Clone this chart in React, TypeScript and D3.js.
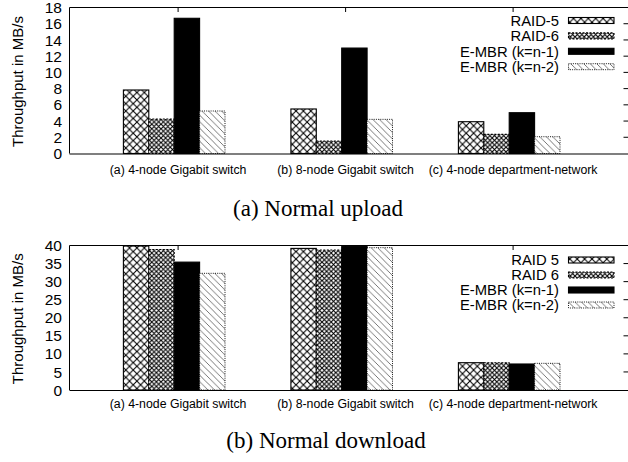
import React from "react";
import * as d3 from "d3";

const categories = [
  "(a) 4-node Gigabit switch",
  "(b) 8-node Gigabit switch",
  "(c) 4-node department-network",
];

const uploadNames = ["RAID-5", "RAID-6", "E-MBR (k=n-1)", "E-MBR (k=n-2)"];
const downloadNames = ["RAID 5", "RAID 6", "E-MBR (k=n-1)", "E-MBR (k=n-2)"];

const uploadRaid5 = [7.83, 5.49, 3.92];
const uploadRaid6 = [4.25, 1.54, 2.36];
const uploadEmbr1 = [16.67, 13.0, 5.03];
const uploadEmbr2 = [5.24, 4.21, 2.07];

const downloadRaid5 = [39.85, 39.2, 7.56];
const downloadRaid6 = [38.9, 38.75, 7.56];
const downloadEmbr1 = [35.4, 39.7, 7.2];
const downloadEmbr2 = [32.3, 39.4, 7.38];

const uploadTicks = [0, 2, 4, 6, 8, 10, 12, 14, 16, 18];
const downloadTicks = [0, 5, 10, 15, 20, 25, 30, 35, 40];

const yLabel = "Throughput in MB/s";
const captionA = "(a) Normal upload";
const captionB = "(b) Normal download";

const SANS = "'Liberation Sans', Arial, Helvetica, sans-serif";
const SERIF = "'Liberation Serif', 'Times New Roman', Times, serif";

const fills = ["url(#pR5)", "url(#pR6)", "#000", "url(#pN2)"];
const strokeDash = [undefined, "2,1.5", undefined, "1,1.2"];

type PanelProps = {
  top: number;
  bottom: number;
  ticks: number[];
  names: string[];
  values: number[][];
  legendTop: number;
  legendStep: number;
  catBaseline: number;
};

function Panel({ top, bottom, ticks, names, values, legendTop, legendStep, catBaseline }: PanelProps) {
  const left = 69.5;
  const right = 628;
  const yMax = ticks[ticks.length - 1];
  const y = d3.scaleLinear().domain([0, yMax]).range([bottom, top]);
  const xc = d3.scalePoint<string>().domain(categories).range([174.2, 509.2]);
  const xs = d3.scaleBand<number>().domain(d3.range(names.length)).range([-50.8, 50.8]);
  const tickOffset = 3.9;
  return (
    <g>
      {values.map((vals, si) =>
        vals.map((v, ci) => {
          const x0 = (xc(categories[ci]) as number) + (xs(si) as number);
          return (
            <rect
              key={`${si}-${ci}`}
              x={x0}
              y={y(v)}
              width={xs.bandwidth()}
              height={y(0) - y(v)}
              fill={fills[si]}
              stroke="#000"
              strokeWidth={si === 3 ? 0.9 : 1.1}
              strokeDasharray={strokeDash[si]}
            />
          );
        })
      )}
      <line x1={left} x2={left} y1={top} y2={bottom} stroke="#000" strokeWidth={1} />
      <line x1={left} x2={right} y1={bottom + 0.5} y2={bottom + 0.5} stroke="#000" strokeWidth={1.2} />
      <line x1={left} x2={right} y1={top} y2={top} stroke="#000" strokeWidth={1} />
      {ticks.map((t) => (
        <text
          key={`yl${t}`}
          x={62}
          y={y(t)}
          dy="0.36em"
          textAnchor="end"
          fontFamily={SANS}
          fontSize={15.5}
          fill="#000"
        >
          {t}
        </text>
      ))}
      {ticks.slice(1, -1).map((t) => (
        <line key={`rt${t}`} x1={623.5} x2={628} y1={y(t)} y2={y(t)} stroke="#000" strokeWidth={1} />
      ))}
      {categories.map((c) => {
        const tx = (xc(c) as number) + tickOffset;
        return (
          <g key={c}>
            <line x1={tx} x2={tx} y1={top} y2={top + 4.5} stroke="#000" strokeWidth={1} />
            <text
              x={tx}
              y={catBaseline}
              textAnchor="middle"
              fontFamily={SANS}
              fontSize={12.3}
              fill="#000"
            >
              {c}
            </text>
          </g>
        );
      })}
      <text
        transform={`translate(17,${(top + bottom) / 2 + 1}) rotate(-90)`}
        textAnchor="middle"
        dominantBaseline="central"
        fontFamily={SANS}
        fontSize={15}
        fill="#000"
      >
        {yLabel}
      </text>
      {names.map((n, i) => {
        const cy = legendTop + i * legendStep;
        return (
          <g key={n}>
            <text
              x={559}
              y={cy + 5.2}
              textAnchor="end"
              fontFamily={SANS}
              fontSize={14.8}
              fill="#000"
            >
              {n}
            </text>
            <rect
              x={568.5}
              y={cy - 3}
              width={45.5}
              height={6}
              fill={fills[i]}
              stroke="#000"
              strokeWidth={i === 3 ? 0.9 : 1.1}
              strokeDasharray={strokeDash[i]}
            />
          </g>
        );
      })}
    </g>
  );
}

export default function App() {
  return (
    <svg
      width={628}
      height={462}
      viewBox="0 0 628 462"
      style={{ position: "absolute", left: 0, top: 0, background: "#fff" }}
    >
      <defs>
        <pattern id="pR5" patternUnits="userSpaceOnUse" width={7.4} height={7.4}>
          <rect width={7.4} height={7.4} fill="#fff" />
          <path d="M0,0L7.4,7.4M7.4,0L0,7.4" stroke="#000" strokeWidth={1.1} />
        </pattern>
        <pattern id="pR6" patternUnits="userSpaceOnUse" width={4.6} height={4.6}>
          <rect width={4.6} height={4.6} fill="#fff" />
          <path d="M0,0L4.6,4.6M4.6,0L0,4.6" stroke="#000" strokeWidth={1.1} />
        </pattern>
        <pattern id="pN2" patternUnits="userSpaceOnUse" width={6.5} height={6.5}>
          <rect width={6.5} height={6.5} fill="#fff" />
          <path d="M0,0L6.5,6.5M-1,5.5L1,7.5M5.5,-1L7.5,1" stroke="#555" strokeWidth={0.8} />
        </pattern>
      </defs>
      <rect width={628} height={462} fill="#fff" />
      <Panel
        top={7.5}
        bottom={153.5}
        ticks={uploadTicks}
        names={uploadNames}
        values={[uploadRaid5, uploadRaid6, uploadEmbr1, uploadEmbr2]}
        legendTop={20.5}
        legendStep={15.4}
        catBaseline={174}
      />
      <text x={318} y={216} textAnchor="middle" fontFamily={SERIF} fontSize={23} fill="#000">
        {captionA}
      </text>
      <Panel
        top={245.5}
        bottom={390}
        ticks={downloadTicks}
        names={downloadNames}
        values={[downloadRaid5, downloadRaid6, downloadEmbr1, downloadEmbr2]}
        legendTop={260}
        legendStep={15}
        catBaseline={408}
      />
      <text x={326} y={448} textAnchor="middle" fontFamily={SERIF} fontSize={23} fill="#000">
        {captionB}
      </text>
    </svg>
  );
}
